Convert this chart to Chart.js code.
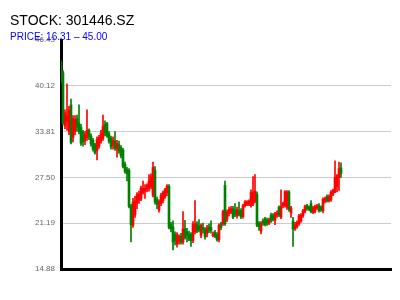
<!DOCTYPE html>
<html>
<head>
<meta charset="utf-8">
<script src="https://cdn.jsdelivr.net/npm/chart.js@4.4.1/dist/chart.umd.min.js"></script>
<style>
  body { margin: 0; background: #fff; }
  #wrap { position: relative; width: 400px; height: 300px; }
  .title { position: absolute; left: 10px; top: 13px; font: 14px/14px "Liberation Sans", Arial, sans-serif; color: #000; white-space: nowrap; }
  .sub { position: absolute; left: 10px; top: 31.5px; font: 10px/10px "Liberation Sans", Arial, sans-serif; color: blue; white-space: nowrap; }
</style>
</head>
<body>
<div id="wrap">
  <canvas id="stockChart" width="400" height="300"></canvas>
  <div class="title">STOCK: 301446.SZ</div>
  <div class="sub">PRICE: 16.31 – 45.00</div>
</div>
<script>
// daily candles
const opens = [
  43.3,41.9,34.6,35.2,33.9,37.5,33.0,33.8,35.6,35.0,
  34.4,33.8,32.5,33.0,34.0,33.2,32.6,32.0,31.2,31.8,
  32.5,32.9,34.8,34.9,33.5,32.9,31.9,32.5,31.4,32.0,
  31.6,31.3,29.3,28.6,28.5,23.6,20.9,22.3,24.0,24.4,
  24.5,25.4,25.6,25.8,26.0,26.2,25.0,28.5,24.5,23.0,
  23.9,24.3,24.8,25.4,26.3,21.0,20.7,19.7,18.3,18.6,
  19.4,18.6,20.4,20.0,19.7,19.6,18.8,20.0,21.1,20.8,
  19.5,20.6,20.3,19.7,20.7,20.6,19.5,19.9,19.6,18.9,
  21.0,21.1,26.4,21.7,22.5,22.7,23.2,22.9,22.2,22.9,
  22.9,22.1,23.6,23.8,23.8,23.6,23.8,24.2,25.2,21.2,
  20.1,21.5,21.8,21.6,21.2,22.3,22.3,21.6,22.3,23.4,
  22.0,23.6,23.6,23.4,25.5,22.6,21.5,20.4,20.7,21.1,
  21.5,22.2,22.8,23.6,23.4,23.9,22.7,22.8,23.3,23.6,
  23.4,22.9,24.2,24.9,24.3,24.4,25.2,25.5,26.2,27.4,
  28.8
];
const highs = [
  43.6,42.2,36.8,40.4,37.3,38.3,36.0,36.0,36.1,37.5,
  34.8,34.0,33.8,36.8,34.2,33.5,32.9,32.2,33.1,33.3,
  34.0,36.1,35.3,35.1,33.8,33.2,33.1,33.8,32.6,32.5,
  31.9,31.5,29.6,28.9,28.7,23.8,24.6,24.9,25.4,25.6,
  26.3,27.0,26.5,26.6,27.9,28.0,29.6,29.0,24.8,24.4,
  25.3,25.6,26.0,26.5,26.5,21.3,21.5,20.0,19.9,19.6,
  19.8,22.8,21.6,20.5,20.1,19.9,21.4,24.3,21.4,21.7,
  21.1,21.2,20.6,20.9,21.1,21.5,20.0,20.2,19.9,21.1,
  21.3,23.0,27.0,23.0,23.4,23.5,23.5,23.9,23.4,24.1,
  23.2,23.8,24.3,24.3,24.4,25.8,27.6,27.9,25.5,21.4,
  21.4,21.8,22.0,21.9,21.9,22.6,22.5,22.7,22.9,23.6,
  25.8,24.1,25.7,25.7,25.7,23.5,22.0,21.3,21.5,22.4,
  22.5,23.1,23.7,23.8,23.6,24.3,23.5,23.7,23.8,23.9,
  23.6,24.7,24.8,25.1,25.1,25.7,25.9,29.8,27.9,29.6,
  29.5
];
const lows = [
  40.5,34.8,34.2,34.0,33.4,32.1,32.4,33.4,33.9,33.5,
  31.9,31.8,32.0,32.6,32.7,31.8,31.1,30.7,29.9,31.5,
  32.2,32.6,33.2,33.0,32.2,31.4,31.4,31.2,30.3,30.8,
  30.2,28.8,28.1,27.0,23.3,18.6,20.6,22.0,23.2,23.9,
  24.3,25.2,24.6,25.5,25.6,25.9,24.8,23.8,23.2,22.7,
  23.6,24.0,24.6,25.0,20.4,20.0,17.5,18.2,17.9,18.3,
  18.3,18.3,19.0,18.6,18.8,18.0,18.5,19.7,19.9,20.0,
  19.2,19.8,19.0,19.3,19.9,19.8,19.3,19.2,18.7,18.6,
  20.3,20.9,20.9,21.4,22.2,22.5,21.8,22.1,21.9,22.2,
  21.8,21.9,23.4,23.6,23.6,23.4,23.6,24.0,20.7,20.2,
  19.7,20.9,20.8,20.9,21.0,21.3,21.5,21.0,22.0,22.1,
  21.8,23.3,23.4,23.1,22.8,22.0,18.0,20.2,20.5,20.9,
  21.3,22.0,22.6,23.0,22.9,22.6,22.5,22.6,23.1,22.7,
  22.8,22.6,24.0,24.1,24.1,24.2,25.0,25.4,25.5,25.7,
  27.5
];
const closes = [
  40.7,35.0,36.4,36.0,36.8,32.3,35.6,35.5,34.4,33.8,
  32.2,32.4,33.4,34.0,33.1,32.1,31.4,30.9,32.7,33.0,
  33.6,34.5,33.6,33.2,32.5,31.7,32.6,31.5,32.2,31.1,
  30.5,29.0,28.3,28.0,23.5,21.0,24.1,24.3,25.1,25.2,
  26.0,26.0,26.0,26.4,27.0,27.6,28.9,24.1,23.8,24.2,
  25.0,25.4,25.8,26.3,20.6,20.4,18.6,18.8,19.6,19.4,
  18.6,20.4,19.2,19.5,19.0,18.8,21.1,21.1,20.1,20.3,
  20.9,20.3,19.3,20.5,20.2,20.2,19.7,19.4,18.9,20.9,
  20.6,22.8,21.1,22.7,23.1,23.2,22.0,22.4,23.1,22.4,
  22.1,23.6,24.1,24.1,24.2,25.4,25.5,25.6,20.9,20.7,
  21.2,21.2,21.0,21.2,21.7,21.5,21.7,22.5,22.6,22.3,
  23.5,23.9,25.5,25.5,23.1,23.3,20.4,21.0,21.3,22.2,
  22.3,22.9,23.5,23.2,23.1,22.8,23.3,23.5,23.6,22.9,
  23.0,24.5,24.6,24.3,24.9,25.5,25.7,27.5,27.8,28.7,
  28.0
];
// x slots: trading days shown plus empty room on the right
const dayCount = 166;
const days = Array.from({ length: dayCount }, (_, i) => String(i + 1));
const yTicks = [14.88, 21.19, 27.50, 33.81, 40.12, 46.43];

const UP = '#ff0000';
const DOWN = '#008000';
const candleColor = ctx => closes[ctx.dataIndex] >= opens[ctx.dataIndex] ? UP : DOWN;

const config = {
  type: 'bar',
  data: {
    labels: days,
    datasets: [
      {
        label: 'wick',
        data: lows.map((l, i) => [l, highs[i]]),
        backgroundColor: candleColor,
        barThickness: 1,
        grouped: false,
        borderWidth: 0
      },
      {
        label: 'body',
        data: opens.map((o, i) => [o, closes[i]]),
        backgroundColor: candleColor,
        barPercentage: 1,
        categoryPercentage: 1,
        grouped: false,
        borderWidth: 0
      }
    ]
  },
  options: {
    responsive: false,
    animation: false,
    layout: { padding: { left: 0, top: 40, right: 9, bottom: 31 } },
    plugins: {
      legend: { display: false },
      tooltip: { enabled: false }
    },
    scales: {
      x: {
        offset: false,
        grid: { display: false, drawTicks: false },
        ticks: { display: false },
        border: { color: '#000', width: 3 },
        afterFit: scale => { scale.height = 0; }
      },
      y: {
        min: 14.88,
        max: 46.43,
        afterBuildTicks: scale => { scale.ticks = yTicks.map(v => ({ value: v })); },
        afterFit: scale => { scale.width = 61; },
        grid: {
          drawTicks: false,
          color: ctx => (ctx.tick && ctx.tick.value === 46.43) ? 'rgba(0,0,0,0)' : '#cccccc',
          lineWidth: 1
        },
        border: { color: '#000', width: 3 },
        ticks: {
          padding: 6,
          color: '#666',
          font: { size: 8, family: '"Liberation Sans", Arial, sans-serif' },
          callback: v => Number(v).toFixed(2)
        }
      }
    }
  }
};

new Chart(document.getElementById('stockChart'), config);
</script>
</body>
</html>
